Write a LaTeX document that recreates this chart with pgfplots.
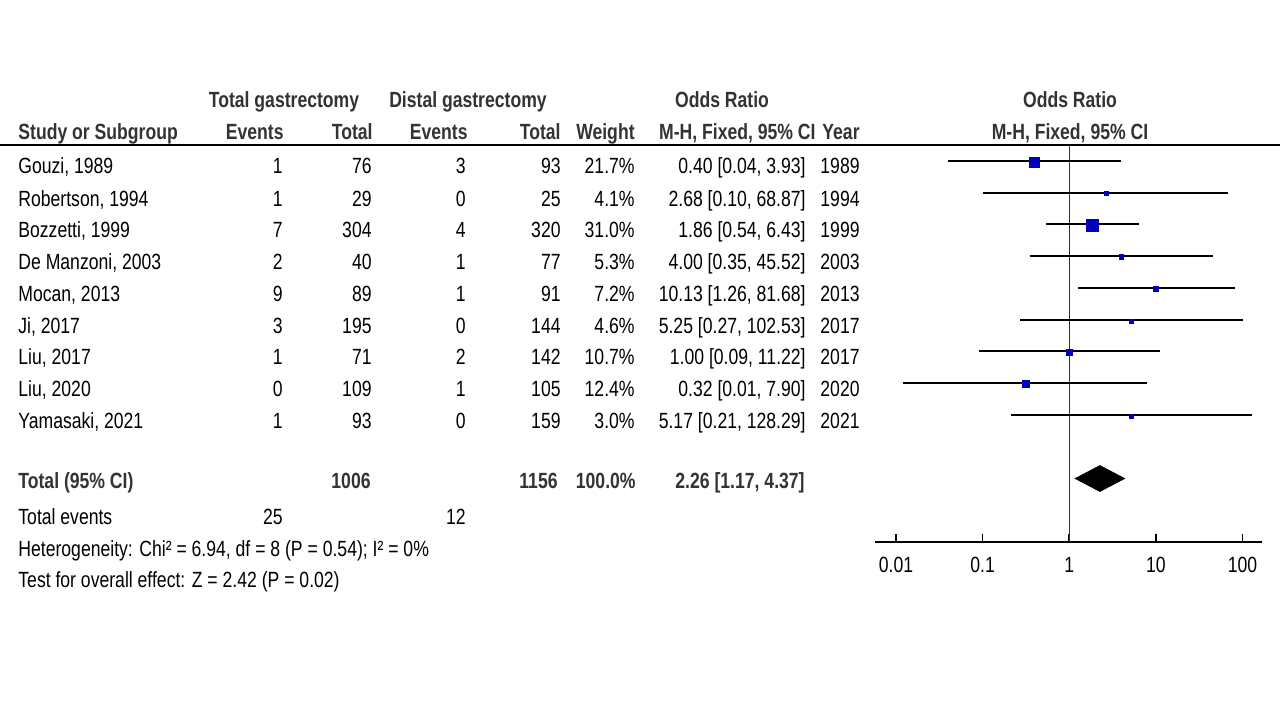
\documentclass[border=0pt]{standalone}
\usepackage{fontspec}
\setmainfont[FakeStretch=0.8]{Liberation Sans}
\usepackage{pgfplots}
\usepackage{pgfplotstable}
\pgfplotsset{compat=1.18}
\definecolor{hdr}{HTML}{333333}
\definecolor{sq}{HTML}{0000BB}
\newcommand\fnt{\fontsize{11}{13}\selectfont}

\pgfplotstableread{
or    y      s
0.40  -162   2.5
2.68  -193.7 1.0
1.86  -225   3.0
4.00  -257   1.1
10.13 -289   1.25
5.25  -321   1.0
1.00  -352   1.5
0.32  -384   1.75
5.17  -416   1.0
}\studies

\newcommand\TL[3]{\node[anchor=base west,inner sep=0pt] at (#1,#2) {#3};}
\newcommand\TR[3]{\node[anchor=base east,inner sep=0pt] at (#1,#2) {#3};}
\newcommand\TC[3]{\node[anchor=base,inner sep=0pt] at (#1,#2) {#3};}

\begin{document}
\begin{tikzpicture}[font=\fnt]
\useasboundingbox (0,0) rectangle (640pt,-360pt);
\begin{axis}[
  at={(437.5pt,-270.85pt)}, anchor=south west,
  scale only axis, width=193.5pt, height=198.35pt,
  xmode=log, xmin=0.00573, xmax=168,
  ymin=-541.7, ymax=-145,
  axis x line*=bottom, axis y line=none,
  axis line style={-, line width=1pt, black},
  xtick={0.01,0.1,1,10,100},
  xticklabels={0.01,0.1,1,10,100},
  xminorticks=false,
  xtick align=inside, major tick length=4pt,
  xtick style={line width=0.8pt, black},
  xticklabel style={anchor=center, yshift=-11.65pt, font=\fnt, text=black},
  clip=false,
  unbounded coords=jump,
]
% line of no effect
\addplot[line width=0.5pt, color=hdr] coordinates {(1,-145) (1,-541.7)};
% confidence intervals
\addplot[black, line width=0.9pt] coordinates {
(0.04,-161) (3.93,-161) (nan,nan)
(0.10,-192.7) (68.87,-192.7) (nan,nan)
(0.54,-224) (6.43,-224) (nan,nan)
(0.35,-256) (45.52,-256) (nan,nan)
(1.26,-288) (81.68,-288) (nan,nan)
(0.27,-320) (102.53,-320) (nan,nan)
(0.09,-351) (11.22,-351) (nan,nan)
(0.012,-383) (7.90,-383) (nan,nan)
(0.21,-415) (128.29,-415)
};
% study weights
\addplot[scatter, only marks, mark=square*, point meta=0,
  scatter/use mapped color={draw=sq, fill=sq},
  mark options={line width=0pt},
  visualization depends on={\thisrow{s} \as \ms},
  scatter/@pre marker code/.append style={/tikz/mark size=\ms}]
  table[x=or, y=y] {\studies};
% pooled estimate
\addplot[fill=black, draw=black, line width=0.3pt] coordinates {
(1.17,-478.5) (2.26,-465.5) (4.37,-478.5) (2.26,-491.5) (1.17,-478.5)} -- cycle;
\end{axis}

\begin{scope}[x=0.5pt,y=-0.5pt]
\draw[line width=1pt, black] (0,145) -- (1280,145);
% header rows
\begin{scope}[every node/.append style={text=hdr, font=\fnt\bfseries}]
\TC{284}{107}{Total gastrectomy}
\TC{468}{107}{Distal gastrectomy}
\TC{722}{107}{Odds Ratio}
\TC{1070}{107}{Odds Ratio}
\TL{18}{139}{Study or Subgroup}
\TR{284}{139}{Events}
\TR{373}{139}{Total}
\TR{468}{139}{Events}
\TR{561}{139}{Total}
\TR{635}{139}{Weight}
\TR{816}{139}{M-H, Fixed, 95\% CI}
\TR{860}{139}{Year}
\TC{1070}{139}{M-H, Fixed, 95\% CI}
% total row
\TL{18}{488}{Total (95\% CI)}
\TR{371}{488}{1006}
\TR{558}{488}{1156}
\TR{636}{488}{100.0\%}
\TR{805}{488}{2.26 [1.17, 4.37]}
\end{scope}
% study rows
\TL{18}{173}{Gouzi, 1989}        \TR{283}{173}{1}\TR{372}{173}{76} \TR{466}{173}{3}\TR{561}{173}{93} \TR{635}{173}{21.7\%}\TR{806}{173}{0.40 [0.04, 3.93]}\TR{860}{173}{1989}
\TL{18}{206}{Robertson, 1994}    \TR{283}{206}{1}\TR{372}{206}{29} \TR{466}{206}{0}\TR{561}{206}{25} \TR{635}{206}{4.1\%} \TR{806}{206}{2.68 [0.10, 68.87]}\TR{860}{206}{1994}
\TL{18}{237}{Bozzetti, 1999}     \TR{283}{237}{7}\TR{372}{237}{304}\TR{466}{237}{4}\TR{561}{237}{320}\TR{635}{237}{31.0\%}\TR{806}{237}{1.86 [0.54, 6.43]}\TR{860}{237}{1999}
\TL{18}{269}{De Manzoni, 2003}   \TR{283}{269}{2}\TR{372}{269}{40} \TR{466}{269}{1}\TR{561}{269}{77} \TR{635}{269}{5.3\%} \TR{806}{269}{4.00 [0.35, 45.52]}\TR{860}{269}{2003}
\TL{18}{301}{Mocan, 2013}        \TR{283}{301}{9}\TR{372}{301}{89} \TR{466}{301}{1}\TR{561}{301}{91} \TR{635}{301}{7.2\%} \TR{806}{301}{10.13 [1.26, 81.68]}\TR{860}{301}{2013}
\TL{18}{333}{Ji, 2017}           \TR{283}{333}{3}\TR{372}{333}{195}\TR{466}{333}{0}\TR{561}{333}{144}\TR{635}{333}{4.6\%} \TR{806}{333}{5.25 [0.27, 102.53]}\TR{860}{333}{2017}
\TL{18}{364}{Liu, 2017}          \TR{283}{364}{1}\TR{372}{364}{71} \TR{466}{364}{2}\TR{561}{364}{142}\TR{635}{364}{10.7\%}\TR{806}{364}{1.00 [0.09, 11.22]}\TR{860}{364}{2017}
\TL{18}{396}{Liu, 2020}          \TR{283}{396}{0}\TR{372}{396}{109}\TR{466}{396}{1}\TR{561}{396}{105}\TR{635}{396}{12.4\%}\TR{806}{396}{0.32 [0.01, 7.90]}\TR{860}{396}{2020}
\TL{18}{428}{Yamasaki, 2021}     \TR{283}{428}{1}\TR{372}{428}{93} \TR{466}{428}{0}\TR{561}{428}{159}\TR{635}{428}{3.0\%} \TR{806}{428}{5.17 [0.21, 128.29]}\TR{860}{428}{2021}
% footer
\TL{18}{524}{Total events}\TR{283}{524}{25}\TR{466}{524}{12}
\TL{18}{556}{Heterogeneity: Chi² = 6.94, df = 8 (P = 0.54); I² = 0\%}
\TL{18}{587}{Test for overall effect: Z = 2.42 (P = 0.02)}
\end{scope}
\end{tikzpicture}
\end{document}
